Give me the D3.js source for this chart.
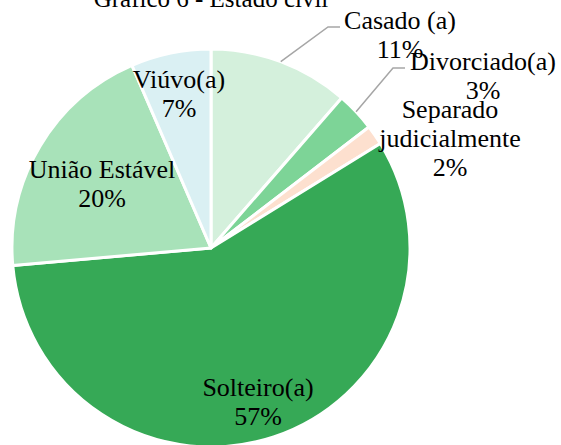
<!DOCTYPE html>
<html>
<head>
<meta charset="utf-8">
<script src="https://cdn.jsdelivr.net/npm/d3@7"></script>
<style>
  body { margin: 0; background: #fff; }
  svg { display: block; }
  text { font-family: 'Liberation Serif', 'DejaVu Serif', 'Times New Roman', Times, serif; }
</style>
</head>
<body>
<div id="chart"></div>
<script>
// data
var categories = ["Casado (a)", "Divorciado(a)", "Separado judicialmente", "Solteiro(a)", "União Estável", "Viúvo(a)"];
var values = [11.4, 3.2, 1.6, 57.4, 19.9, 6.5];
var labelLines = [["Casado (a)", "11%"], ["Divorciado(a)", "3%"], ["Separado", "judicialmente", "2%"],
                  ["Solteiro(a)", "57%"], ["União Estável", "20%"], ["Viúvo(a)", "7%"]];
var title = "Gráfico 6 - Estado civil";

var width = 561, height = 445;
var cx = 211, cy = 248, radius = 199;
var serif = "'Liberation Serif', 'DejaVu Serif', serif";

var colors = ["#d4f0dc", "#7dd497", "#fde0cf", "#36a956", "#a8e2b9", "#daf0f3"];

// label anchors relative to pie centre (first line baseline)
var labelAt = {
  "Casado (a)": [189, -219],
  "Divorciado(a)": [272, -178],
  "Separado judicialmente": [239, -130],
  "Solteiro(a)": [47, 148],
  "União Estável": [-109, -70],
  "Viúvo(a)": [-32, -160]
};
// leader line elbows (relative to centre)
var leaders = {
  "Casado (a)": [[117, -221], [129, -221]],
  "Divorciado(a)": [[182, -180], [194, -180]]
};

var svg = d3.select("#chart").append("svg")
    .attr("width", width)
    .attr("height", height);

svg.append("text")
    .attr("x", cx)
    .attr("y", 7)
    .attr("text-anchor", "middle")
    .attr("font-family", serif)
    .attr("font-size", 25)
    .text(title);

var pie = d3.pie().sort(null).value(function (d) { return d; });
var arcs = pie(values);
var arc = d3.arc().innerRadius(0).outerRadius(radius);
var edge = d3.arc().innerRadius(radius).outerRadius(radius);

var g = svg.append("g").attr("transform", "translate(" + cx + "," + cy + ")");

g.selectAll("path.slice")
    .data(arcs)
    .enter()
    .append("path")
    .attr("class", "slice")
    .attr("d", arc)
    .attr("fill", function (d, i) { return colors[i]; })
    .attr("stroke", "#fff")
    .attr("stroke-width", 3)
    .attr("stroke-linejoin", "round");

// leader lines
g.selectAll("polyline")
    .data(arcs.filter(function (d, i) { return leaders[categories[i]]; }))
    .enter()
    .append("polyline")
    .attr("points", function (d) {
        var p = edge.centroid(d);
        var pts = [p].concat(leaders[categories[d.index]]);
        return pts.map(function (q) { return q.join(","); }).join(" ");
    })
    .attr("fill", "none")
    .attr("stroke", "#a6a6a6")
    .attr("stroke-width", 1.5);

// labels
var lab = g.selectAll("text.lab")
    .data(arcs)
    .enter()
    .append("text")
    .attr("class", "lab")
    .attr("text-anchor", "middle")
    .attr("font-family", serif)
    .attr("font-size", 26)
    .attr("fill", "#000")
    .attr("transform", function (d) {
        var p = labelAt[categories[d.index]];
        return "translate(" + p[0] + "," + p[1] + ")";
    });

lab.selectAll("tspan")
    .data(function (d) { return labelLines[d.index]; })
    .enter()
    .append("tspan")
    .attr("x", 0)
    .attr("y", function (d, i) { return i * 29; })
    .text(function (d) { return d; });
</script>
</body>
</html>
